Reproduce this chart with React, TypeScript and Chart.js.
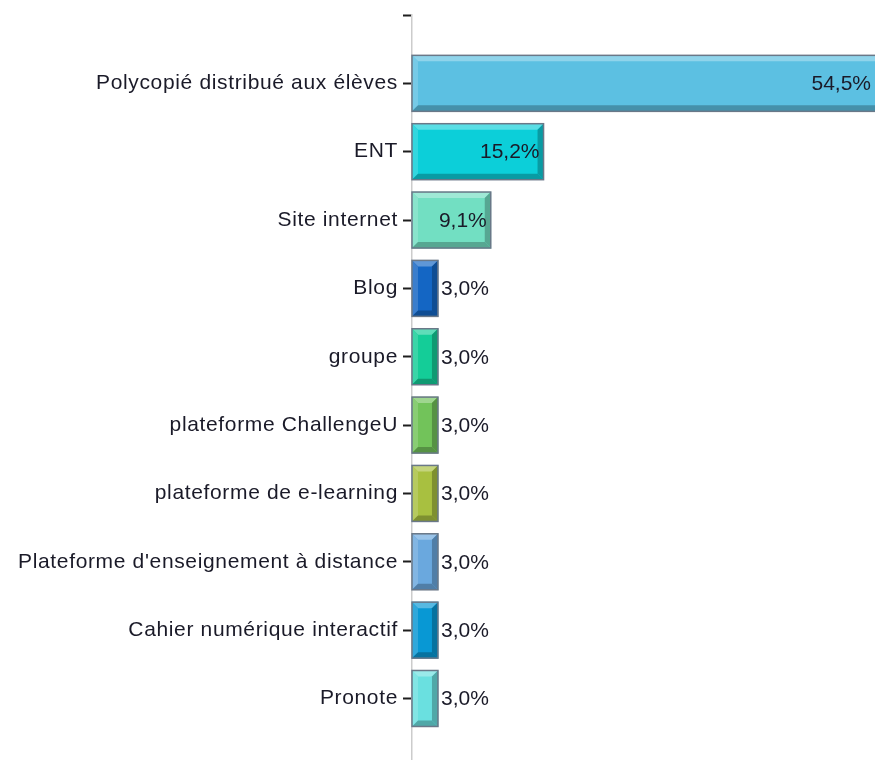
import React, { useEffect, useRef } from "react";
import { Chart, registerables } from "chart.js";

Chart.register(...registerables);

const categories: string[] = [
  "Polycopié distribué aux élèves",
  "ENT",
  "Site internet",
  "Blog",
  "groupe",
  "plateforme ChallengeU",
  "plateforme de e-learning",
  "Plateforme d'enseignement à distance",
  "Cahier numérique interactif",
  "Pronote",
];
const values: number[] = [54.5, 15.2, 9.1, 3.0, 3.0, 3.0, 3.0, 3.0, 3.0, 3.0];
const valueLabels: string[] = ["54,5%", "15,2%", "9,1%", "3,0%", "3,0%", "3,0%", "3,0%", "3,0%", "3,0%", "3,0%"];
const colors: string[] = [
  "#5cc0e2",
  "#0ccfd9",
  "#72dfc2",
  "#1466c4",
  "#14cd98",
  "#72c35a",
  "#a8c040",
  "#6aa8de",
  "#0898d4",
  "#6ae0e0",
];

const FONT = '"Liberation Sans", Arial, sans-serif';

function mix(hex: string, target: number, amt: number): string {
  const n = parseInt(hex.slice(1), 16);
  const r = (n >> 16) & 255, g = (n >> 8) & 255, b = n & 255;
  const f = (c: number) => Math.round(c + (target - c) * amt);
  return `rgb(${f(r)},${f(g)},${f(b)})`;
}

const spacingPlugin = {
  id: "spacing",
  beforeDraw(chart: any) {
    (chart.ctx as any).letterSpacing = "0.65px";
  },
  beforeDatasetsDraw(chart: any) {
    (chart.ctx as any).letterSpacing = "0px";
  },
};

const bevelPlugin = {
  id: "bevel",
  afterDatasetsDraw(chart: any) {
    const ctx = chart.ctx as CanvasRenderingContext2D;
    (ctx as any).letterSpacing = "0px";
    const area = chart.chartArea;
    const meta = chart.getDatasetMeta(0);
    ctx.save();
    ctx.beginPath();
    ctx.rect(area.left - 2, 0, area.right - area.left + 4, chart.height);
    ctx.clip();
    meta.data.forEach((el: any, i: number) => {
      const p = el.getProps(["x", "y", "base", "height"], true);
      const L = Math.min(p.base, p.x);
      const R = Math.max(p.base, p.x);
      const T = p.y - p.height / 2;
      const B = p.y + p.height / 2;
      const b = 6;
      const c = colors[i];
      const poly = (pts: number[][], fill: string) => {
        ctx.beginPath();
        ctx.moveTo(pts[0][0], pts[0][1]);
        for (let k = 1; k < pts.length; k++) ctx.lineTo(pts[k][0], pts[k][1]);
        ctx.closePath();
        ctx.fillStyle = fill;
        ctx.fill();
      };
      poly([[L, T], [R, T], [R - b, T + b], [L + b, T + b]], mix(c, 255, 0.32));
      poly([[L, T], [L + b, T + b], [L + b, B - b], [L, B]], mix(c, 255, 0.16));
      poly([[L, B], [L + b, B - b], [R - b, B - b], [R, B]], mix(c, 0, 0.25));
      poly([[R, T], [R, B], [R - b, B - b], [R - b, T + b]], mix(c, 0, 0.25));
      ctx.lineWidth = 1.5;
      ctx.strokeStyle = "#6a7888";
      ctx.strokeRect(L, T, R - L, B - T);
    });
    ctx.restore();
    ctx.save();
    ctx.font = `21px ${FONT}`;
    ctx.fillStyle = "#1a1a28";
    ctx.textBaseline = "middle";
    meta.data.forEach((el: any, i: number) => {
      const p = el.getProps(["x", "y", "base"], true);
      const R = Math.max(p.base, p.x);
      if (values[i] > 5) {
        ctx.textAlign = "right";
        ctx.fillText(valueLabels[i], Math.min(R, area.right) - 4, p.y + 1);
      } else {
        ctx.textAlign = "left";
        ctx.fillText(valueLabels[i], R + 3, p.y + 1);
      }
    });
    ctx.restore();
  },
};

export default function App() {
  const ref = useRef<HTMLCanvasElement | null>(null);
  useEffect(() => {
    if (!ref.current) return;
    const chart = new Chart(ref.current, {
      type: "bar",
      data: {
        datasets: [
          {
            data: values.map((v, i) => ({ x: v, y: i + 1 })),
            backgroundColor: colors,
            borderWidth: 0,
            barThickness: 56,
          },
        ],
      },
      options: {
        indexAxis: "y",
        animation: false,
        responsive: false,
        maintainAspectRatio: false,
        layout: { padding: { top: 15, right: 0, bottom: 0, left: 0 } },
        plugins: { legend: { display: false }, tooltip: { enabled: false } },
        scales: {
          x: { type: "linear", display: false, min: 0, max: 53.5 },
          y: {
            type: "linear",
            reverse: true,
            offset: false,
            min: 0,
            max: 10.9,
            afterBuildTicks: (scale: any) => {
              scale.ticks = [0, 1, 2, 3, 4, 5, 6, 7, 8, 9, 10].map((v) => ({ value: v }));
            },
            afterFit: (scale: any) => {
              scale.width = 412;
              scale.paddingTop = 0;
              scale.paddingBottom = 0;
            },
            grid: {
              offset: false,
              drawOnChartArea: false,
              drawTicks: true,
              tickLength: 9,
              tickColor: "#1f1f1f",
              tickWidth: 2,
            },
            border: { display: true, color: "#cccccc", width: 1.5 },
            ticks: {
              autoSkip: false,
              padding: 5,
              color: "#1a1a28",
              font: { family: FONT, size: 21 },
              callback: (v: any) => (v >= 1 && v <= 10 ? categories[v - 1] : ""),
            },
          },
        },
      },
      plugins: [spacingPlugin, bevelPlugin],
    });
    return () => chart.destroy();
  }, []);
  return (
    <div style={{ position: "fixed", left: 0, top: 0, width: 875, height: 760, background: "#fff" }}>
      <canvas ref={ref} width={875} height={760} style={{ width: 875, height: 760, display: "block" }} />
    </div>
  );
}
